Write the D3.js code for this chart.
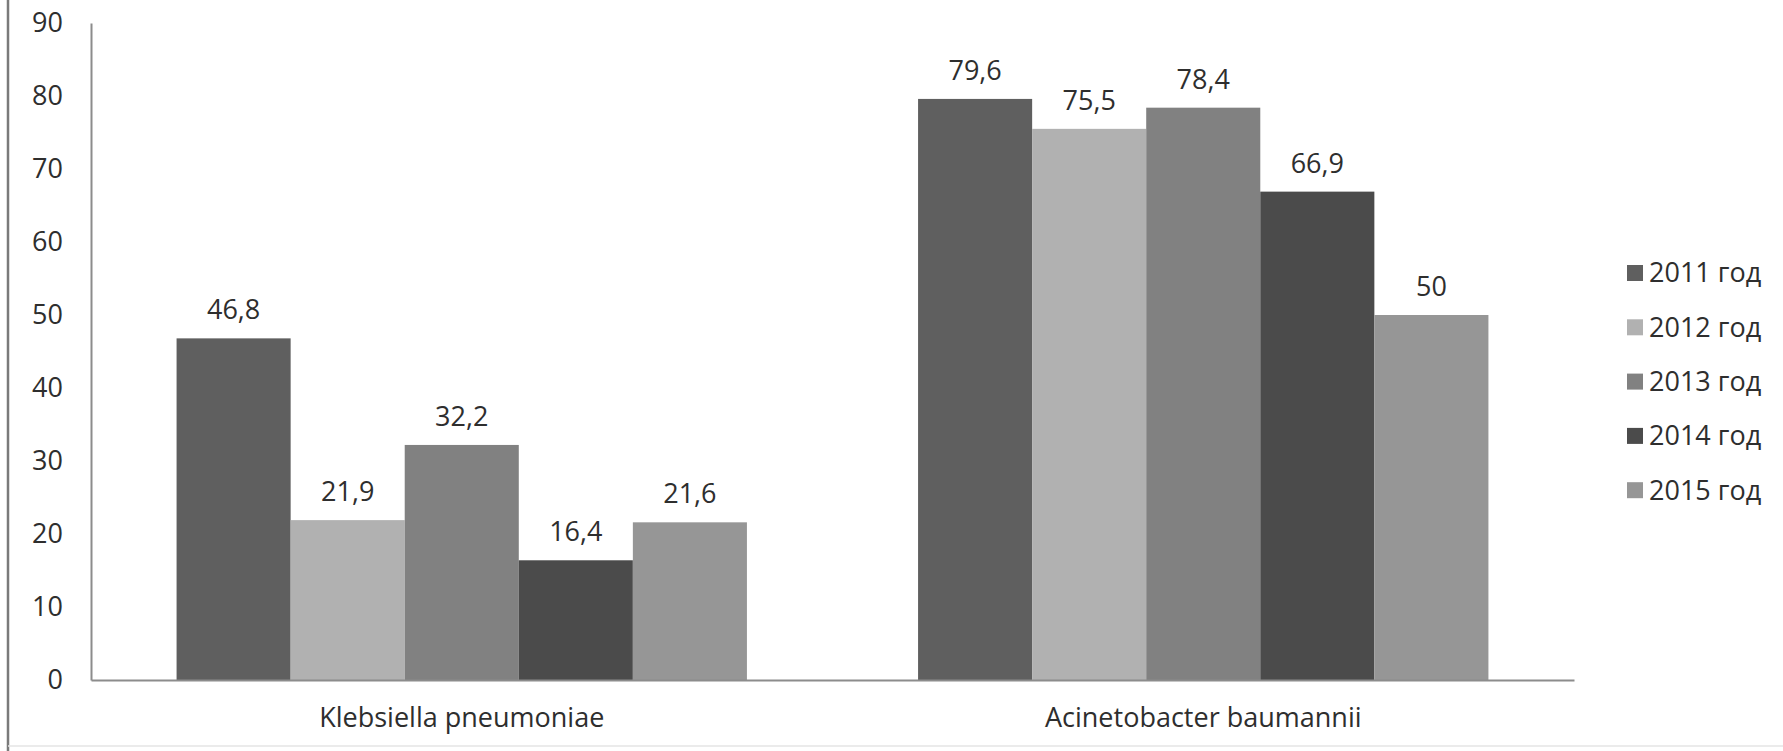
<!DOCTYPE html>
<html>
<head>
<meta charset="utf-8">
<script src="https://cdn.jsdelivr.net/npm/d3@7"></script>
<style>
  html, body { margin: 0; padding: 0; background: #fff; }
  svg { display: block; }
</style>
</head>
<body>
<svg id="chart" width="1783" height="751"></svg>
<script>
const categories = ["Klebsiella pneumoniae", "Acinetobacter baumannii"];
const seriesNames = ["2011 год", "2012 год", "2013 год", "2014 год", "2015 год"];
const seriesColors = ["#5f5f5f", "#b1b1b1", "#818181", "#4b4b4b", "#969696"];
const values2011 = [46.8, 79.6];
const values2012 = [21.9, 75.5];
const values2013 = [32.2, 78.4];
const values2014 = [16.4, 66.9];
const values2015 = [21.6, 50];
const yTicks = [0, 10, 20, 30, 40, 50, 60, 70, 80, 90];

const seriesValues = [values2011, values2012, values2013, values2014, values2015];
const svg = d3.select("#chart");
const W = 1783, H = 751;
const font = "'Open Sans', 'DejaVu Sans', sans-serif";
const FS = 27;
const textColor = "#2e2e2e";

const plot = { left: 91, right: 1574, top: 23, bottom: 680 };

const x0 = d3.scaleBand().domain(categories).range([plot.left, plot.right]).paddingInner(0.2308).paddingOuter(0.1154);
const x1 = d3.scaleBand().domain(seriesNames).range([0, x0.bandwidth()]).padding(0);
const y = d3.scaleLinear().domain([0, 90]).range([plot.bottom, plot.top]);

// frame
svg.append("line").attr("x1", 8).attr("x2", 8).attr("y1", 0).attr("y2", H)
  .attr("stroke", "#7a7a7a").attr("stroke-width", 2.5);
svg.append("line").attr("x1", 8).attr("x2", W).attr("y1", 746).attr("y2", 746)
  .attr("stroke", "#e4e4e4").attr("stroke-width", 1.5);

// bars
const data = [];
categories.forEach((c, ci) => {
  seriesNames.forEach((s, si) => data.push({ c, s, si, v: seriesValues[si][ci] }));
});

svg.append("g").selectAll("rect").data(data).join("rect")
  .attr("x", d => x0(d.c) + x1(d.s))
  .attr("y", d => y(d.v))
  .attr("width", x1.bandwidth())
  .attr("height", d => y(0) - y(d.v))
  .attr("fill", d => seriesColors[d.si]);

// value labels
svg.append("g").selectAll("text").data(data).join("text")
  .attr("x", d => x0(d.c) + x1(d.s) + x1.bandwidth() / 2)
  .attr("y", d => y(d.v) - 19)
  .attr("text-anchor", "middle")
  .attr("font-family", font).attr("font-size", FS).attr("fill", textColor)
  .text(d => String(d.v).replace(".", ","));

// y axis
const yAxis = d3.axisLeft(y).tickValues(yTicks).tickSize(0).tickPadding(28);
const gy = svg.append("g").attr("transform", `translate(${plot.left},0)`).call(yAxis);
gy.select(".domain").attr("stroke", "#8c8c8c").attr("stroke-width", 2);
gy.selectAll("text").attr("font-family", font).attr("font-size", FS).attr("fill", textColor);

// x axis
const xAxis = d3.axisBottom(x0).tickSize(0).tickPadding(28);
const gx = svg.append("g").attr("transform", `translate(0,${plot.bottom})`).call(xAxis);
gx.select(".domain").attr("stroke", "#8c8c8c").attr("stroke-width", 2);
gx.selectAll("text").attr("font-family", font).attr("font-size", FS).attr("fill", textColor);

// legend
const legend = svg.append("g").attr("transform", "translate(1627,273)");
const li = legend.selectAll("g").data(seriesNames).join("g")
  .attr("transform", (d, i) => `translate(0,${i * 54.3})`);
li.append("rect").attr("x", 0).attr("y", -8).attr("width", 16).attr("height", 16)
  .attr("fill", (d, i) => seriesColors[i]);
li.append("text").attr("x", 22).attr("y", 0).attr("dy", "0.35em")
  .attr("font-family", font).attr("font-size", FS).attr("fill", textColor)
  .text(d => d);
</script>
</body>
</html>
